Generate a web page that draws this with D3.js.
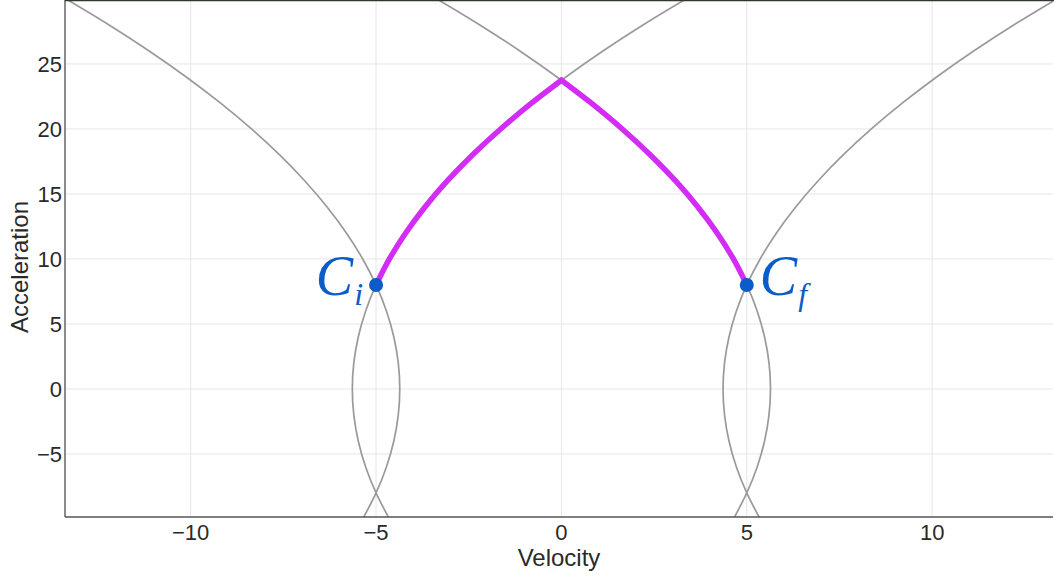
<!DOCTYPE html>
<html>
<head>
<meta charset="utf-8">
<script src="https://cdn.jsdelivr.net/npm/d3@7"></script>
<style>
  html, body { margin: 0; padding: 0; background: #fff; }
  svg { display: block; }
</style>
</head>
<body>
<svg id="chart" width="1054" height="578"></svg>
<script>
// Phase-plane: acceleration (vertical) against velocity (horizontal).
// Each boundary curve is sampled at these acceleration levels.
const accelSamples = [-10, -8, -6, -4, -2, 0, 2, 4, 6, 8, 10, 12, 14, 16, 18, 20, 22, 24, 26, 28, 30];

// Velocities of the four jerk-limited boundary curves at the sampled accelerations
const curveLeftOpen   = [-4.64, -5.00, -5.28, -5.48, -5.60, -5.64, -5.60, -5.48, -5.28, -5.00, -4.64, -4.20, -3.68, -3.08, -2.40, -1.64, -0.80, 0.12, 1.12, 2.20, 3.36];
const curveLeftClose  = [-5.36, -5.00, -4.72, -4.52, -4.40, -4.36, -4.40, -4.52, -4.72, -5.00, -5.36, -5.80, -6.32, -6.92, -7.60, -8.36, -9.20, -10.12, -11.12, -12.20, -13.36];
const curveRightOpen  = [4.64, 5.00, 5.28, 5.48, 5.60, 5.64, 5.60, 5.48, 5.28, 5.00, 4.64, 4.20, 3.68, 3.08, 2.40, 1.64, 0.80, -0.12, -1.12, -2.20, -3.36];
const curveRightClose = [5.36, 5.00, 4.72, 4.52, 4.40, 4.36, 4.40, 4.52, 4.72, 5.00, 5.36, 5.80, 6.32, 6.92, 7.60, 8.36, 9.20, 10.12, 11.12, 12.20, 13.36];

// Highlighted path from the initial to the final condition
const pathAccel    = [8, 10, 12, 14, 16, 18, 20, 22, 23.75, 22, 20, 18, 16, 14, 12, 10, 8];
const pathVelocity = [-5.00, -4.64, -4.20, -3.68, -3.08, -2.40, -1.64, -0.80, 0.00, 0.80, 1.64, 2.40, 3.08, 3.68, 4.20, 4.64, 5.00];

// Initial and final conditions
const pointNames    = ["C", "C"];
const pointSubs     = ["i", "f"];
const pointVelocity = [-5, 5];
const pointAccel    = [8, 8];

// Axis ticks
const xTicks = [-10, -5, 0, 5, 10];
const yTicks = [-5, 0, 5, 10, 15, 20, 25];

const W = 1054, H = 578;
const margin = { left: 65, right: 1, top: 0, bottom: 61 };
const plotL = margin.left, plotR = W - margin.right, plotT = margin.top, plotB = H - margin.bottom;

const x = d3.scaleLinear().domain([-13.39, 13.26]).range([plotL, plotR]);
const y = d3.scaleLinear().domain([-9.85, 29.92]).range([plotB, plotT]);

const svg = d3.select("#chart");
const fontSans = "'Liberation Sans', Arial, sans-serif";
const minus = s => String(s).replace("-", "\u2212");

svg.append("defs").append("clipPath").attr("id", "plotClip")
  .append("rect").attr("x", plotL).attr("y", plotT)
  .attr("width", plotR - plotL).attr("height", plotB - plotT);

// Grid
const grid = svg.append("g").attr("stroke", "#e6e6e6").attr("stroke-width", 1);
grid.selectAll("line.vx").data(xTicks).join("line")
  .attr("x1", d => x(d)).attr("x2", d => x(d))
  .attr("y1", plotT).attr("y2", plotB);
grid.selectAll("line.hy").data(yTicks).join("line")
  .attr("x1", plotL).attr("x2", plotR)
  .attr("y1", d => y(d)).attr("y2", d => y(d));

const plot = svg.append("g").attr("clip-path", "url(#plotClip)");

// Boundary curves
const line = d3.line().x(d => x(d[0])).y(d => y(d[1])).curve(d3.curveCatmullRom.alpha(0.5));
const curves = [curveLeftOpen, curveLeftClose, curveRightOpen, curveRightClose];
plot.selectAll("path.boundary").data(curves).join("path")
  .attr("class", "boundary")
  .attr("d", vs => line(vs.map((v, i) => [v, accelSamples[i]])))
  .attr("fill", "none").attr("stroke", "#9a9a9a").attr("stroke-width", 1.7);

// Highlighted trajectory (two smooth arcs meeting at the peak)
const peak = pathAccel.indexOf(d3.max(pathAccel));
const pathPts = pathVelocity.map((v, i) => [v, pathAccel[i]]);
const arcs = [pathPts.slice(0, peak + 1), pathPts.slice(peak)];
plot.selectAll("path.traj").data(arcs).join("path")
  .attr("class", "traj")
  .attr("d", line)
  .attr("fill", "none").attr("stroke", "#d22cf5").attr("stroke-width", 5.5)
  .attr("stroke-linecap", "round").attr("stroke-linejoin", "round");

// Axis lines
svg.append("line").attr("x1", plotL).attr("x2", plotL).attr("y1", plotT).attr("y2", plotB)
  .attr("stroke", "#6e6e6e").attr("stroke-width", 1.6);
svg.append("line").attr("x1", plotL).attr("x2", plotR).attr("y1", plotB).attr("y2", plotB)
  .attr("stroke", "#555", ).attr("stroke-width", 1.6);
svg.append("line").attr("x1", plotL).attr("x2", W).attr("y1", 0.5).attr("y2", 0.5)
  .attr("stroke", "#2e3a2e").attr("stroke-width", 1.5);

// Tick labels
svg.append("g").selectAll("text").data(xTicks).join("text")
  .attr("x", d => x(d)).attr("y", 540)
  .attr("text-anchor", "middle")
  .attr("font-family", fontSans).attr("font-size", 22).attr("fill", "#2a2a2a")
  .text(d => minus(d));
svg.append("g").selectAll("text").data(yTicks).join("text")
  .attr("x", 62).attr("y", d => y(d)).attr("dy", "0.36em")
  .attr("text-anchor", "end")
  .attr("font-family", fontSans).attr("font-size", 22).attr("fill", "#2a2a2a")
  .text(d => minus(d));

// Axis titles
svg.append("text").attr("x", (plotL + plotR) / 2).attr("y", 566)
  .attr("text-anchor", "middle")
  .attr("font-family", fontSans).attr("font-size", 24).attr("fill", "#2a2a2a")
  .text("Velocity");
svg.append("text")
  .attr("transform", `translate(28, 267) rotate(-90)`)
  .attr("text-anchor", "middle")
  .attr("font-family", fontSans).attr("font-size", 24).attr("fill", "#2a2a2a")
  .text("Acceleration");

// Condition points and their labels
const blue = "#0b5bc8";
svg.append("g").selectAll("circle").data(pointVelocity).join("circle")
  .attr("cx", d => x(d)).attr("cy", (d, i) => y(pointAccel[i]))
  .attr("r", 7).attr("fill", blue);

const labels = svg.append("g").selectAll("text").data(pointVelocity).join("text")
  .attr("x", (d, i) => i === 0 ? x(d) - 13 : x(d) + 13)
  .attr("y", (d, i) => y(pointAccel[i]) + 10)
  .attr("text-anchor", (d, i) => i === 0 ? "end" : "start")
  .attr("font-family", "'Liberation Serif', 'DejaVu Serif', serif")
  .attr("font-style", "italic").attr("font-size", 56).attr("fill", blue);
labels.append("tspan").text((d, i) => pointNames[i]);
labels.append("tspan").attr("font-size", 32).attr("dy", 10).attr("dx", 1)
  .text((d, i) => pointSubs[i]);
</script>
</body>
</html>
